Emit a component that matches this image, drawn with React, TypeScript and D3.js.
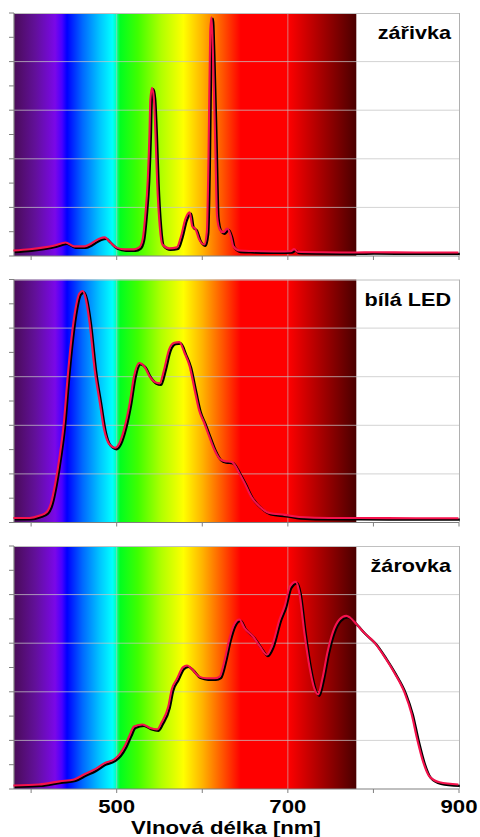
import React from 'react'
import * as d3 from 'd3'

// barevné spektrum na pozadí
const spectrumWl = [380, 405, 428, 436, 442, 460, 480, 495, 499, 504, 525, 552, 578, 600, 620, 645, 700, 780]
const spectrumColors = ['#4a0c58', '#62109a', '#7a08e8', '#4a00ff', '#0000ff', '#0068ff', '#00c4ff', '#00ffff', '#00ffc0', '#00ff20', '#40ff00', '#b0ff00', '#ffff00', '#ffb400', '#ff6400', '#ff0000', '#ff0000', '#4a0000']

// zářivka
const zarivkaWl = [380, 399, 416, 428, 441, 451, 463, 471, 481, 487, 492, 500, 510, 521, 527, 531, 534, 537, 539, 540, 542, 544, 546, 548, 551, 554, 562, 571, 576, 581, 586, 589, 593, 597, 603, 606, 608, 610, 611.5, 613, 616, 618, 621, 625, 630, 634, 637, 644, 660, 690, 704, 708, 712, 740, 780, 800, 850, 900]
const zarivkaI = [2, 2.5, 3.3, 4.1, 5.3, 3.7, 3.7, 4.9, 7, 7.4, 5.8, 3.3, 2.5, 2.5, 3.3, 6.6, 16, 31, 50, 64, 69, 65, 50, 30, 12, 4.5, 2.9, 3.3, 8, 15, 17.7, 12, 10.7, 6.6, 4.5, 9.5, 40, 92, 98, 85, 44, 16, 10.7, 9.5, 11, 8, 3.7, 2, 1.8, 1.6, 1.7, 2.6, 1.5, 1.3, 1.2, 1.3, 1.2, 1.2]

// bílá LED
const ledWl = [380, 399, 410, 419, 424, 429, 434, 439, 443, 448, 453, 457, 461, 464, 469, 475, 481, 486, 492, 499, 504, 510, 516, 521, 527, 533, 539, 545, 551, 556, 562, 568, 574, 580, 586, 592, 597, 603, 609, 615, 621, 627, 635, 641, 644, 650, 658, 668, 679, 697, 714, 749, 784, 850, 900]
const ledI = [1.6, 1.6, 2.5, 4.1, 7.8, 16, 27, 41, 58, 76, 88.5, 94, 95, 92.6, 82, 62.5, 49, 38, 32, 30.5, 32.5, 39, 49, 60, 65.4, 64, 60, 57.6, 57, 62.5, 71, 73.7, 74, 69.5, 64, 54, 46, 40.7, 35, 29.6, 26, 25, 24.7, 22, 20, 16, 10.3, 6.2, 3.7, 2.9, 2, 1.6, 1.6, 1.5, 1.5]

// žárovka
const zarovkaWl = [380, 410, 434, 451, 463, 475, 486, 498, 504, 510, 516, 521, 531, 539, 548, 553, 561, 565, 571, 578, 583, 589, 597, 606, 615, 621, 627, 632, 638, 644, 650, 660, 668, 676, 682, 691, 697, 703, 710, 714, 720, 726, 732, 736, 741, 747, 753, 761, 769, 773, 781, 790, 802, 814, 825, 837, 845, 852, 859, 866, 878, 900]
const zarovkaI = [1.2, 1.6, 2.9, 3.7, 5.8, 7.8, 10.3, 12, 14, 17.3, 22, 25.5, 26.3, 25, 24.3, 27, 33.7, 40.7, 45, 49.8, 50.6, 49, 46, 45.3, 45.3, 46, 53, 61, 67.5, 69.5, 66, 62.5, 58.4, 55, 58.4, 69.5, 75, 83, 85, 80.7, 64, 50, 40.7, 38.7, 45, 56, 64, 69.5, 71, 70.4, 67.5, 64, 60, 54, 47.7, 39.5, 31, 20, 10.7, 5, 2.5, 1.6]

const panelNames = ['zářivka', 'bílá LED', 'žárovka']
const panelWl = [zarivkaWl, ledWl, zarovkaWl]
const panelI = [zarivkaI, ledI, zarovkaI]

const xTicks = [400, 500, 600, 700, 800, 900]
const xLabels = [500, 700, 900]
const xGrid = [500, 700]
const yMajor = [20, 40, 60, 80]
const yTicks = d3.range(0, 101, 10)

const W = 480
const H = 837
const left = 14
const right = 459
const top0 = 13
const panelH = 243
const panelStep = 266.5

export default function App() {
  const x = d3.scaleLinear().domain([380, 900]).range([left, right])
  const stop = d3.scaleLinear().domain([380, 780]).range([0, 1])

  return (
    <svg width={W} height={H} style={{ position: 'absolute', left: 0, top: 0, background: '#fff' }}
      fontFamily="'Liberation Sans', Arial, sans-serif">
      <defs>
        <linearGradient id="spectrum" gradientUnits="userSpaceOnUse" x1={x(380)} x2={x(780)} y1={0} y2={0}>
          {spectrumWl.map((w, i) => (
            <stop key={i} offset={stop(w)} stopColor={spectrumColors[i]} />
          ))}
        </linearGradient>
      </defs>
      {panelNames.map((name, p) => {
        const t = top0 + p * panelStep
        const y = d3.scaleLinear().domain([0, 100]).range([t + panelH, t])
        const pts: [number, number][] = panelWl[p].map((w, i) => [w, panelI[p][i]])
        const line = d3.line<[number, number]>()
          .x(d => x(d[0]))
          .y(d => y(d[1]))
          .curve(d3.curveMonotoneX)
        const path = line(pts) || ''
        return (
          <g key={name}>
            <rect x={x(380)} y={t} width={x(780) - x(380)} height={panelH} fill="url(#spectrum)" />
            {yMajor.map(v => (
              <line key={v} x1={left} x2={right} y1={y(v)} y2={y(v)} stroke="#c4c4c4" strokeOpacity={0.75} />
            ))}
            {xGrid.map(v => (
              <line key={v} x1={x(v)} x2={x(v)} y1={t} y2={t + panelH} stroke="#c4c4c4" strokeOpacity={0.6} />
            ))}
            <line x1={left} x2={right} y1={t + 0.5} y2={t + 0.5} stroke="#c0c0c0" />
            <line x1={right + 0.5} x2={right + 0.5} y1={t} y2={t + panelH} stroke="#b0b0b0" />
            {/* osa y */}
            <line x1={left} x2={left} y1={t} y2={t + panelH} stroke="#808080" strokeWidth={1.2} />
            {yTicks.map(v => (
              <line key={v} x1={left - 5} x2={left} y1={y(v)} y2={y(v)} stroke="#808080" />
            ))}
            {/* osa x */}
            <line x1={left} x2={right} y1={t + panelH} y2={t + panelH} stroke="#808080" strokeWidth={1.2} />
            {xTicks.map(v => (
              <line key={v} x1={x(v)} x2={x(v)} y1={t + panelH} y2={t + panelH + 4} stroke="#808080" />
            ))}
            <path d={path} fill="none" stroke="#000" strokeWidth={2.4} strokeLinejoin="round"
              transform="translate(0.8,0.8)" />
            <path d={path} fill="none" stroke="#f5124c" strokeWidth={2.1} strokeLinejoin="round"
              transform="translate(-0.6,-0.6)" />
            <text transform={`translate(451,${t + 26}) scale(1.2,1)`} textAnchor="end"
              fontSize={18} fontWeight="bold" fill="#000">{name}</text>
          </g>
        )
      })}
      {xLabels.map(v => (
        <text key={v} transform={`translate(${x(v)},813) scale(1.2,1)`} textAnchor="middle"
          fontSize={18.5} fontWeight="bold" fill="#000">{v}</text>
      ))}
      <text transform="translate(226,834) scale(1.17,1)" textAnchor="middle" fontSize={19}
        fontWeight="bold" fill="#000">Vlnová délka [nm]</text>
    </svg>
  )
}
